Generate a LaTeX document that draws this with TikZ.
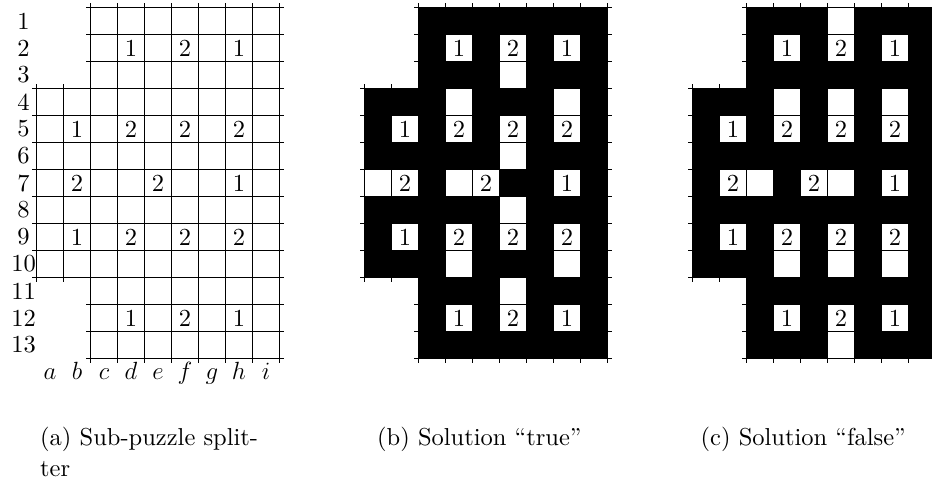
\documentclass[tikz,border=0pt]{standalone}
\usepackage{fontspec}
% the 10pt design of Latin Modern, enlarged, for all text
\setmainfont{lmroman10-regular}[Extension=.otf, ItalicFont=lmroman10-italic, BoldFont=lmroman10-bold]

% grid of a puzzle board in cell units: columns c..i span all 13 rows,
% columns a and b only rows 4..10; every line overshoots by \ext
\newcommand\ext{0.15}
\newcommand\puzzlegrid{%
  \foreach \k in {0,1,2,11,12,13} \draw[gridline] (2-\ext,\k) -- (9+\ext,\k);
  \foreach \k in {3,...,10} \draw[gridline] (-\ext,\k) -- (9+\ext,\k);
  \foreach \j in {0,1} \draw[gridline] (\j,3-\ext) -- (\j,10+\ext);
  \foreach \j in {2,...,9} \draw[gridline] (\j,-\ext) -- (\j,13+\ext);
}
% outline of the board, used for the black fill of a solution
\newcommand\boardshape{(2,0) -- (9,0) -- (9,13) -- (2,13) -- (2,10) -- (0,10) -- (0,3) -- (2,3) -- cycle}
% clue numbers: column/row/value, zero based
\newcommand\puzzleclues[1]{%
  \foreach \c/\r/\v in {3/1/1,5/1/2,7/1/1,
                        1/4/1,3/4/2,5/4/2,7/4/2,
                        1/6/2,4/6/2,7/6/1,
                        1/8/1,3/8/2,5/8/2,7/8/2,
                        3/11/1,5/11/2,7/11/1}
    \node[clue] (#1-\c-\r) at (\c+0.5,\r+0.5) {\v};
}

\tikzset{
  txt/.style={font=\fontsize{24.5}{31}\selectfont},
  gridline/.style={line width=1.4pt},
  clue/.style={txt, inner sep=0pt},
  lbl/.style={txt, inner sep=0pt},
  caption/.style={txt, anchor=base west, inner sep=0pt},
  board/.style={x=27pt, y=-27pt},
}

\begin{document}
\begin{tikzpicture}[x=1pt, y=-1pt]
  \useasboundingbox (0,0) rectangle (932,479);
  \clip (0,0) rectangle (932,479);

  % (a) the empty puzzle with coordinates
  \begin{scope}[shift={(36.5,7.5)}, board]
    \puzzlegrid
    \puzzleclues{pa}
    \foreach \r in {1,...,13}
      \node[lbl] (row\r) at (-0.478,\r-0.5) {\r};
    \foreach \c/\l in {0/a,1/b,2/c,3/d,4/e,5/f,6/g,7/h,8/i}
      \node[lbl, anchor=base] (col\l) at (\c+0.5,13.76) {$\l$};
  \end{scope}

  % (b) solution "true"
  \begin{scope}[shift={(364.5,7.5)}, board]
    \fill[black] \boardshape;
    \foreach \c/\r in {3/1,5/1,7/1, 5/2, 3/3,7/3, 1/4,3/4,5/4,7/4, 5/5,
                       0/6,1/6,3/6,4/6,7/6, 5/7, 1/8,3/8,5/8,7/8,
                       3/9,7/9, 5/10, 3/11,5/11,7/11}
      \fill[white] (\c,\r) rectangle ++(1,1);
    \puzzlegrid
    \puzzleclues{pb}
  \end{scope}

  % (c) solution "false"
  \begin{scope}[shift={(692.5,7.5)}, board]
    \fill[black] \boardshape;
    \foreach \c/\r in {5/0, 3/1,5/1,7/1, 3/3,5/3,7/3, 1/4,3/4,5/4,7/4,
                       1/6,2/6,4/6,5/6,7/6, 1/8,3/8,5/8,7/8,
                       3/9,5/9,7/9, 3/11,5/11,7/11, 5/12}
      \fill[white] (\c,\r) rectangle ++(1,1);
    \puzzlegrid
    \puzzleclues{pc}
  \end{scope}

  % sub-captions
  \node[caption] (capa1) at (40,445) {(a) Sub-puzzle split-};
  \node[caption] (capa2) at (40,476) {ter};
  \node[caption] (capb) at (377,445) {(b) Solution ``true''};
  \node[caption] (capc) at (700.5,445) {(c) Solution ``false''};
\end{tikzpicture}
\end{document}
